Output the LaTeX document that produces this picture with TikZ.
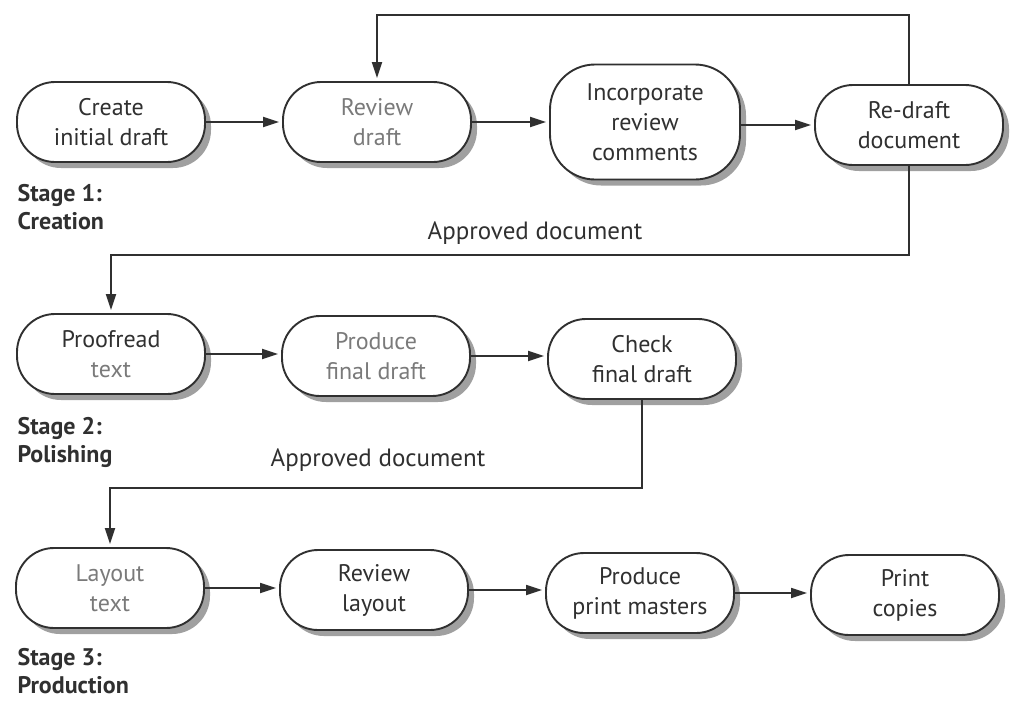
\documentclass[tikz,border=0pt]{standalone}
\usepackage{fontspec}
\setmainfont{PT Sans}
\usetikzlibrary{arrows.meta,shadows,positioning}
\definecolor{ink}{HTML}{303030}
\definecolor{soft}{HTML}{7A7A7A}
\definecolor{shade}{HTML}{A0A0A0}
\tikzset{
  stepbox/.style={draw=ink, line width=1.9pt, rectangle, rounded corners=38pt,
    minimum width=188pt, minimum height=80pt, align=center, fill=white,
    font=\fontsize{24}{30}\selectfont, text=ink,
    drop shadow={shadow xshift=6pt, shadow yshift=-6pt, fill=shade, opacity=1}},
  arr/.style={draw=ink, line width=1.8pt, -{Triangle[length=16pt,width=10pt]}, shorten >=3pt},
  stagelbl/.style={anchor=north west, align=left, text=ink, font=\bfseries\fontsize{24}{28}\selectfont},
  approved/.style={text=ink, font=\fontsize{25}{30}\selectfont}
}
\begin{document}
\begin{tikzpicture}[x=1pt,y=-1pt]
\useasboundingbox (0,0) rectangle (1019,702);
% Row 1
\node[stepbox] (c1) at (111,122) {Create\\initial draft};
\node[stepbox, text=soft] (c2) at (377,122) {Review\\draft};
\node[stepbox, minimum width=190pt, minimum height=115pt, rounded corners=45pt] (c3) at (645,122) {Incorporate\\review\\comments};
\node[stepbox] (c4) at (909,125) {Re-draft\\document};
\node[stagelbl] (s1) at (14,181) {Stage 1:\\Creation};
% Row 2
\node[stepbox] (p1) at (111,354) {Proofread\\{\color{soft}text}};
\node[stepbox, text=soft] (p2) at (376,356) {Produce\\final draft};
\node[stepbox] (p3) at (642,359) {Check\\final draft};
\node[stagelbl] (s2) at (14,414) {Stage 2:\\Polishing};
% Row 3
\node[stepbox, text=soft] (l1) at (110,588) {Layout\\text};
\node[stepbox] (l2) at (374,590) {Review\\layout};
\node[stepbox] (l3) at (640,593) {Produce\\print masters};
\node[stepbox] (l4) at (905,595) {Print\\copies};
\node[stagelbl] (s3) at (14,645) {Stage 3:\\Production};
% labels
\node[approved] (a1) at (535,233) {Approved document};
\node[approved] (a2) at (378,460) {Approved document};
% coordinates
\coordinate (top) at (0,15);
\coordinate (mid1) at (0,255);
\coordinate (mid2) at (0,488);
% arrows row 1
\draw[arr] (c1.east) -- (c1.east -| c2.west);
\draw[arr] (c2.east) -- (c2.east -| c3.west);
\draw[arr] (c3.east |- c4.west) -- (c4.west);
\draw[arr] (c4.north) -- (c4.north |- top) -| (c2.north);
\draw[arr] (c4.south) -- (c4.south |- mid1) -| (p1.north);
% row 2
\draw[arr] (p1.east) -- (p1.east -| p2.west);
\draw[arr] (p2.east) -- (p2.east -| p3.west);
\draw[arr] (p3.south) -- (p3.south |- mid2) -| (l1.north);
% row 3
\draw[arr] (l1.east) -- (l1.east -| l2.west);
\draw[arr] (l2.east) -- (l2.east -| l3.west);
\draw[arr] (l3.east) -- (l3.east -| l4.west);
\end{tikzpicture}
\end{document}
